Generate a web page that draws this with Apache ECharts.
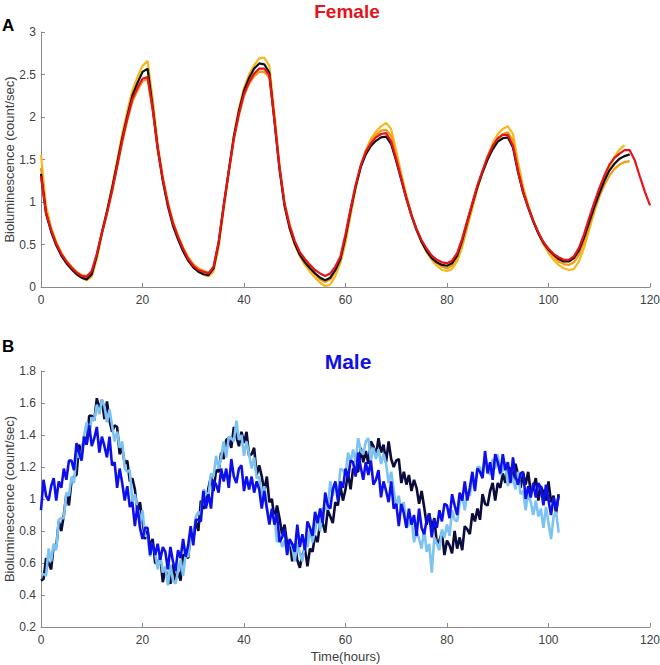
<!DOCTYPE html>
<html><head><meta charset="utf-8">
<script src="https://cdn.jsdelivr.net/npm/echarts@6/dist/echarts.min.js"></script>
<style>html,body{margin:0;padding:0;background:#fff}#c{width:660px;height:665px}</style>
</head><body><div id="c"></div>
<script>
// ---- Female (panel A), hourly samples ----
const femaleRed = [1.30,0.87,0.67,0.51,0.39,0.30,0.23,0.17,0.13,0.12,
0.19,0.39,0.64,0.87,1.13,1.42,1.72,1.98,2.21,2.34,
2.45,2.47,2.10,1.63,1.27,0.98,0.75,0.59,0.45,0.33,
0.25,0.20,0.18,0.16,0.24,0.53,0.96,1.36,1.75,2.04,
2.27,2.41,2.51,2.57,2.57,2.49,1.96,1.40,0.97,0.72,
0.54,0.41,0.33,0.26,0.20,0.16,0.13,0.16,0.24,0.36,
0.62,0.92,1.20,1.43,1.59,1.69,1.76,1.80,1.81,1.71,
1.50,1.27,1.04,0.84,0.68,0.55,0.45,0.37,0.32,0.29,
0.28,0.31,0.40,0.57,0.78,0.99,1.20,1.37,1.53,1.66,
1.75,1.79,1.79,1.66,1.36,1.12,0.94,0.78,0.64,0.53,
0.45,0.39,0.35,0.32,0.32,0.36,0.46,0.62,0.81,0.99,
1.16,1.31,1.44,1.52,1.57,1.61,1.61,1.49,1.30,1.12,
0.96];
const femaleBlack = [1.33,0.86,0.65,0.49,0.37,0.28,0.21,0.15,0.11,0.09,
0.15,0.37,0.64,0.89,1.16,1.45,1.75,2.01,2.25,2.40,
2.53,2.57,2.12,1.63,1.25,0.95,0.72,0.56,0.42,0.31,
0.23,0.18,0.15,0.14,0.22,0.52,0.96,1.37,1.77,2.07,
2.31,2.46,2.57,2.63,2.62,2.52,1.95,1.38,0.95,0.69,
0.51,0.38,0.29,0.22,0.16,0.11,0.08,0.11,0.20,0.33,
0.59,0.90,1.18,1.41,1.56,1.66,1.72,1.76,1.77,1.68,
1.48,1.26,1.04,0.84,0.67,0.53,0.42,0.34,0.29,0.26,
0.25,0.28,0.37,0.55,0.77,0.98,1.18,1.35,1.50,1.62,
1.71,1.75,1.76,1.64,1.35,1.11,0.93,0.77,0.63,0.52,
0.44,0.38,0.33,0.30,0.30,0.34,0.43,0.58,0.76,0.94,
1.10,1.25,1.37,1.45,1.51,1.54,1.56];
const femaleYellow = [1.55,0.95,0.70,0.53,0.40,0.30,0.22,0.16,0.11,0.08,
0.12,0.33,0.62,0.89,1.18,1.49,1.80,2.07,2.31,2.47,
2.60,2.66,2.22,1.68,1.30,1.00,0.77,0.60,0.46,0.34,
0.26,0.20,0.15,0.12,0.18,0.47,0.92,1.36,1.78,2.10,
2.34,2.50,2.61,2.69,2.70,2.60,2.05,1.43,0.97,0.69,
0.50,0.36,0.26,0.18,0.11,0.05,0.01,0.03,0.13,0.28,
0.52,0.84,1.16,1.42,1.61,1.74,1.83,1.89,1.93,1.86,
1.60,1.33,1.08,0.86,0.68,0.53,0.41,0.32,0.25,0.20,
0.19,0.21,0.30,0.47,0.70,0.93,1.16,1.36,1.54,1.69,
1.80,1.86,1.89,1.80,1.47,1.18,0.96,0.78,0.63,0.50,
0.40,0.32,0.26,0.22,0.20,0.21,0.30,0.46,0.67,0.88,
1.07,1.25,1.41,1.53,1.62,1.67];
const femaleOrange = [1.40,0.90,0.68,0.52,0.40,0.31,0.24,0.18,0.14,0.13,
0.17,0.37,0.62,0.86,1.12,1.41,1.70,1.96,2.18,2.31,
2.42,2.45,2.08,1.61,1.26,0.98,0.76,0.60,0.46,0.35,
0.27,0.22,0.19,0.17,0.22,0.50,0.93,1.34,1.73,2.02,
2.25,2.39,2.48,2.53,2.53,2.46,1.98,1.42,0.99,0.73,
0.54,0.40,0.30,0.22,0.15,0.09,0.06,0.09,0.19,0.33,
0.58,0.89,1.18,1.42,1.60,1.72,1.79,1.84,1.85,1.78,
1.55,1.30,1.06,0.85,0.68,0.54,0.43,0.34,0.28,0.24,
0.22,0.25,0.34,0.51,0.73,0.95,1.17,1.35,1.51,1.64,
1.74,1.80,1.82,1.72,1.41,1.15,0.95,0.78,0.64,0.52,
0.43,0.36,0.30,0.27,0.26,0.29,0.38,0.53,0.72,0.90,
1.06,1.20,1.31,1.39,1.44,1.47,1.48];
const femaleStepHours = 1;

// ---- Male (panel B), half-hour samples ----
const maleNavy = [0.49,0.50,0.63,0.60,0.56,0.71,0.70,0.86,0.80,0.90,
1.03,0.96,1.11,1.14,1.15,1.34,1.28,1.39,1.34,1.52,
1.52,1.49,1.63,1.56,1.62,1.50,1.61,1.49,1.42,1.46,
1.45,1.28,1.32,1.22,1.24,1.11,1.13,1.06,0.92,0.98,
0.86,0.75,0.80,0.70,0.75,0.60,0.60,0.64,0.48,0.56,
0.51,0.47,0.59,0.49,0.55,0.49,0.65,0.65,0.63,0.79,
0.75,0.86,0.80,0.99,0.94,0.96,1.07,1.14,1.05,1.18,
1.17,1.29,1.25,1.37,1.38,1.32,1.45,1.39,1.33,1.42,
1.35,1.42,1.27,1.28,1.32,1.15,1.21,1.14,1.05,1.14,
0.98,1.00,0.87,0.96,0.88,0.78,0.84,0.72,0.74,0.61,
0.72,0.62,0.57,0.65,0.69,0.58,0.69,0.67,0.77,0.73,
0.85,0.85,0.79,0.93,0.89,0.85,0.98,0.96,1.08,0.99,
1.06,1.16,1.06,1.19,1.18,1.17,1.32,1.23,1.30,1.22,
1.36,1.33,1.27,1.38,1.29,1.34,1.23,1.36,1.25,1.20,
1.24,1.25,1.10,1.17,1.09,1.15,1.05,1.12,1.07,0.97,
1.05,0.95,0.84,0.91,0.82,0.88,0.72,0.74,0.79,0.65,
0.74,0.71,0.66,0.80,0.69,0.76,0.68,0.83,0.81,0.78,
0.91,0.86,0.94,0.87,1.03,0.97,0.96,1.05,1.10,0.99,
1.10,1.07,1.16,1.10,1.20,1.19,1.11,1.22,1.15,1.07,
1.16,1.09,1.17,1.04,1.07,1.13,0.99,1.08,1.04,0.99,
1.11,0.98,1.02,0.91,1.03];
const maleLight = [0.53,0.53,0.52,0.69,0.61,0.72,0.68,0.87,0.88,0.88,
1.04,1.02,1.14,1.10,1.29,1.26,1.28,1.40,1.48,1.39,
1.51,1.49,1.59,1.53,1.62,1.58,1.48,1.56,1.46,1.36,
1.42,1.32,1.36,1.19,1.17,1.18,0.98,1.03,0.94,0.85,
0.93,0.77,0.77,0.64,0.73,0.66,0.56,0.65,0.54,0.58,
0.46,0.59,0.49,0.47,0.55,0.62,0.52,0.65,0.64,0.77,
0.75,0.89,0.92,0.90,1.06,1.04,1.02,1.16,1.14,1.27,
1.19,1.26,1.36,1.26,1.39,1.38,1.36,1.49,1.37,1.40,
1.27,1.36,1.28,1.19,1.26,1.13,1.14,0.99,1.08,0.95,
0.88,0.91,0.89,0.73,0.78,0.70,0.74,0.66,0.73,0.70,
0.61,0.73,0.66,0.61,0.73,0.70,0.81,0.73,0.80,0.90,
0.80,0.94,0.94,0.94,1.11,1.02,1.10,1.03,1.19,1.18,
1.15,1.29,1.23,1.31,1.23,1.38,1.30,1.28,1.36,1.38,
1.24,1.32,1.25,1.31,1.22,1.28,1.22,1.10,1.17,1.06,
0.95,1.02,0.92,0.98,0.82,0.84,0.88,0.73,0.80,0.75,
0.69,0.81,0.67,0.72,0.54,0.76,0.72,0.68,0.81,0.76,
0.84,0.77,0.93,0.87,0.86,0.97,1.03,0.93,1.04,1.02,
1.13,1.09,1.20,1.20,1.14,1.27,1.21,1.15,1.25,1.19,
1.28,1.15,1.18,1.23,1.08,1.17,1.12,1.06,1.17,1.03,
1.05,0.93,1.04,0.98,0.90,0.99,0.89,0.94,0.82,0.95,
0.85,0.75,0.89,0.92,0.79];
const maleBlue = [0.93,1.12,1.02,0.99,1.08,1.13,0.99,1.11,1.07,1.19,
1.12,1.24,1.24,1.18,1.35,1.29,1.24,1.39,1.34,1.46,
1.33,1.38,1.45,1.29,1.39,1.33,1.26,1.39,1.21,1.23,
1.07,1.19,1.10,0.99,1.08,0.95,0.98,0.83,0.96,0.82,
0.75,0.82,0.82,0.65,0.73,0.65,0.72,0.62,0.70,0.67,
0.56,0.70,0.61,0.55,0.68,0.63,0.75,0.64,0.71,0.83,
0.71,0.87,0.87,0.86,1.05,0.94,1.03,0.94,1.12,1.09,
1.04,1.19,1.11,1.19,1.07,1.25,1.14,1.10,1.19,1.21,
1.05,1.14,1.06,1.14,1.04,1.11,1.06,0.94,1.05,0.94,
0.84,0.94,0.84,0.91,0.73,0.76,0.81,0.65,0.75,0.72,
0.67,0.84,0.70,0.78,0.68,0.86,0.82,0.77,0.92,0.85,
0.94,0.85,1.04,0.96,0.94,1.06,1.11,0.99,1.11,1.07,
1.19,1.13,1.24,1.23,1.14,1.29,1.20,1.12,1.23,1.15,
1.24,1.09,1.12,1.18,1.01,1.11,1.05,0.98,1.11,0.94,
0.97,0.83,0.97,0.91,0.82,0.94,0.84,0.90,0.77,0.94,
0.82,0.78,0.87,0.91,0.76,0.87,0.82,0.93,0.86,0.97,
0.96,0.88,1.03,0.96,0.90,1.04,0.99,1.11,0.99,1.07,
1.17,1.05,1.19,1.17,1.13,1.30,1.16,1.23,1.12,1.28,
1.23,1.16,1.28,1.18,1.23,1.10,1.26,1.14,1.09,1.16,
1.17,1.00,1.08,1.01,1.10,1.01,1.10,1.07,0.96,1.09,
0.99,0.90,1.01,0.93,1.02];
const maleStepHours = 0.5;

const xTicks = [0,20,40,60,80,100,120];

function pairs(vals, step){ return vals.map((v,i)=>[i*step, v]); }

const chart = echarts.init(document.getElementById('c'), null, {renderer:'svg'});
const axisGray = '#8a8a8a';
const labelCol = '#404040';
const FONT = '"Liberation Sans", Arial, sans-serif';
function xAx(gi, name){
  return {gridIndex:gi, type:'value', min:xTicks[0], max:xTicks[xTicks.length-1], interval:20,
    axisLine:{show:true, onZero:false, lineStyle:{color:axisGray, width:1}},
    axisTick:{show:true, inside:true, length:4, lineStyle:{color:axisGray}},
    axisLabel:{color:labelCol, fontSize:12, fontFamily:FONT, margin:7},
    splitLine:{show:false},
    name:name||'', nameLocation:'middle', nameGap:23, nameMoveOverlap:false,
    nameTextStyle:{color:labelCol, fontSize:13, fontFamily:FONT}};
}
function yAx(gi, min, max, interval){
  return {gridIndex:gi, type:'value', min:min, max:max, interval:interval,
    axisLine:{show:true, onZero:false, lineStyle:{color:axisGray, width:1}},
    axisTick:{show:true, inside:true, length:4, lineStyle:{color:axisGray}},
    axisLabel:{color:labelCol, fontSize:12, fontFamily:FONT, margin:5},
    splitLine:{show:false},
    name:'Bioluminescence (count/sec)', nameLocation:'middle', nameGap:25, nameMoveOverlap:false,
    nameTextStyle:{color:labelCol, fontSize:13, fontFamily:FONT}};
}
function line(name, gi, data, color, w){
  return {name:name, type:'line', xAxisIndex:gi, yAxisIndex:gi, data:data, showSymbol:false,
    symbol:'none', silent:true, animation:false, lineStyle:{color:color, width:w}, z:2};
}

chart.setOption({
  animation:false,
  backgroundColor:'#fff',
  grid:[
    {left:41, right:10, top:32, height:255, containLabel:false, outerBoundsMode:'none'},
    {left:41, right:10, top:371, height:256, containLabel:false, outerBoundsMode:'none'}
  ],
  xAxis:[xAx(0), xAx(1,'Time(hours)')],
  yAxis:[yAx(0,0,3,0.5), yAx(1,0.2,1.8,0.2)],
  graphic:[
    {type:'text', left:2, top:17, style:{text:'A', font:'bold 17px "Liberation Sans"', fill:'#000'}},
    {type:'text', left:2, top:338, style:{text:'B', font:'bold 17px "Liberation Sans"', fill:'#000'}},
    {type:'text', x:347, y:11, style:{text:'Female', font:'bold 19px "Liberation Sans"', fill:'#e5131b', textAlign:'center', textVerticalAlign:'middle'}},
    {type:'text', x:348, y:361, style:{text:'Male', font:'bold 21px "Liberation Sans"', fill:'#1010e6', textAlign:'center', textVerticalAlign:'middle'}}
  ],
  series:[
    line('F4', 0, pairs(femaleYellow, femaleStepHours), '#f7b81c', 2.2),
    line('F3', 0, pairs(femaleOrange, femaleStepHours), '#f39a12', 2.2),
    line('F2', 0, pairs(femaleBlack, femaleStepHours), '#111111', 2.2),
    line('F1', 0, pairs(femaleRed, femaleStepHours), '#e5131b', 2.2),
    line('M1', 1, pairs(maleNavy, maleStepHours), '#0c0c3c', 2.6),
    line('M2', 1, pairs(maleLight, maleStepHours), '#7dc3f2', 2.6),
    line('M3', 1, pairs(maleBlue, maleStepHours), '#0d10ea', 2.6)
  ]
});
</script></body></html>
